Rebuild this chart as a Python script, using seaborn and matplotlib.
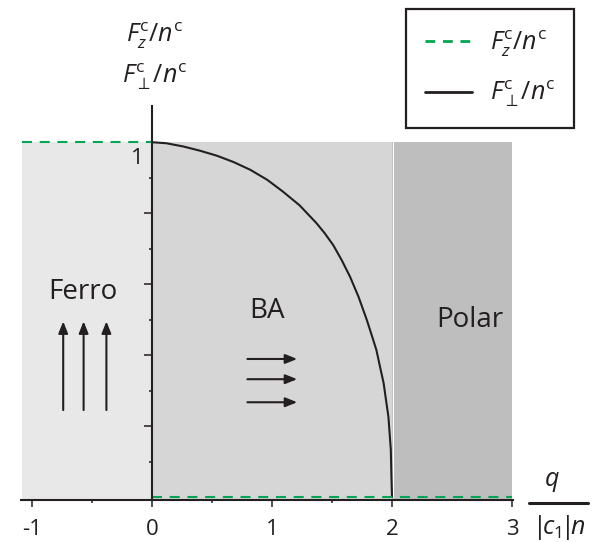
import matplotlib
matplotlib.use("Agg")
import matplotlib.pyplot as plt
from matplotlib.lines import Line2D
from matplotlib.patches import Rectangle
import pandas as pd
import seaborn as sns

# Transverse spin density across the BA phase (read-off values)
q_perp = [0.0, 0.12, 0.26, 0.40, 0.54, 0.68, 0.82, 0.96, 1.09, 1.23, 1.37,
          1.44, 1.51, 1.58, 1.65, 1.72, 1.79, 1.83, 1.87, 1.90, 1.93, 1.95,
          1.97, 1.98, 1.99, 1.995, 2.0]
f_perp = [1.0, 0.997, 0.988, 0.976, 0.962, 0.944, 0.922, 0.894, 0.861, 0.822,
          0.772, 0.743, 0.710, 0.668, 0.621, 0.565, 0.499, 0.457, 0.414,
          0.367, 0.321, 0.273, 0.226, 0.18, 0.133, 0.057, 0.0]

# Longitudinal spin density: saturated in Ferro, zero beyond q = 0
q_fz_ferro = [-1.08, 0.0]
fz_ferro = [1.0, 1.0]
q_fz_rest = [0.0, 3.0]
fz_rest = [0.0, 0.0]

# Phase regions: name, q start, q end, fill colour
phases = ["Ferro", "BA", "Polar"]
phase_q0 = [-1.08, 0.0, 2.0]
phase_q1 = [0.0, 2.0, 3.0]
phase_colors = ["#e8e8e8", "#d7d6d7", "#bebebe"]
phase_label_pos = [(-0.58, 0.577), (0.955, 0.525), (2.65, 0.50)]

x_ticks = [-1, 0, 1, 2, 3]
x_tick_labels = ["-1", "0", "1", "2", "3"]
x_minor = [-0.5, 0.5, 1.5]
y_major = [0.2, 0.4, 0.6, 0.8]
y_minor = [0.1, 0.3, 0.5, 0.7, 0.9]

sns.set_theme(style="white")
plt.rcParams["font.family"] = ["Open Sans", "DejaVu Sans"]
plt.rcParams["mathtext.fontset"] = "custom"
plt.rcParams["mathtext.rm"] = "Open Sans"
plt.rcParams["mathtext.it"] = "Open Sans:italic"
plt.rcParams["mathtext.bf"] = "Open Sans:bold"

GREEN = "#00a651"
INK = "#231f20"
FS_LABEL = 18

fig = plt.figure(figsize=(5.94, 5.42), dpi=100)
ax = fig.add_axes([0.0357, 0.0775, 0.8273, 0.7269])
ax.set_xlim(-1.09, 3.005)
ax.set_ylim(-0.0085, 1.102)

# shaded phase regions
for name, a, b, c in zip(phases, phase_q0, phase_q1, phase_colors):
    ax.add_patch(Rectangle((a, -0.0085), b - a, 1.0085, facecolor=c,
                           edgecolor="none", zorder=0))
ax.plot([2.006, 2.006], [0, 1.0], color="white", lw=0.8, zorder=1)

for name, (px, py) in zip(phases, phase_label_pos):
    ax.text(px, py, name, fontsize=20, ha="center", va="center",
            color=INK, zorder=3)

# curves
df_perp = pd.DataFrame({"q": q_perp, "F": f_perp})
sns.lineplot(data=df_perp, x="q", y="F", ax=ax, color=INK, lw=1.5,
             sort=False, zorder=4)
dash = (0, (4.8, 3.7))
sns.lineplot(x=q_fz_ferro, y=fz_ferro, ax=ax, color=GREEN, lw=1.5,
             linestyle=dash, zorder=5)
sns.lineplot(x=q_fz_rest, y=fz_rest, ax=ax, color=GREEN, lw=1.5,
             linestyle=dash, zorder=5)

# spin arrows
arrow_kw = dict(arrowstyle="-|>,head_length=0.5,head_width=0.2", color=INK,
                lw=1.5, mutation_scale=14, shrinkA=0, shrinkB=0)
for xa in [-0.74, -0.57, -0.38]:
    ax.annotate("", xy=(xa, 0.495), xytext=(xa, 0.245), arrowprops=arrow_kw,
                zorder=3)
for ya in [0.389, 0.332, 0.267]:
    ax.annotate("", xy=(1.21, ya), xytext=(0.795, ya), arrowprops=arrow_kw,
                zorder=3)

# axes styling
for s in ["top", "right"]:
    ax.spines[s].set_visible(False)
ax.spines["left"].set_position(("data", 0.0))
for s in ["left", "bottom"]:
    ax.spines[s].set_color(INK)
    ax.spines[s].set_linewidth(1.5)
    ax.spines[s].set_zorder(6)

ax.set_xticks(x_ticks)
ax.set_xticklabels(x_tick_labels)
ax.set_xticks(x_minor, minor=True)
ax.set_yticks(y_major)
ax.set_yticklabels([])
ax.set_yticks(y_minor, minor=True)
ax.tick_params(axis="x", which="major", direction="out", length=5, width=1.1,
               color=INK, labelsize=16, pad=9, labelcolor=INK, bottom=True)
ax.tick_params(axis="x", which="minor", direction="out", length=2.5,
               width=1.1, color=INK, bottom=True)
ax.tick_params(axis="y", which="major", direction="out", length=5.8,
               width=1.1, color=INK, left=True)
ax.tick_params(axis="y", which="minor", direction="out", length=2.5,
               width=1.1, color=INK, left=True)
ax.set_xlabel("")
ax.set_ylabel("")
ax.text(-0.12, 0.955, "1", fontsize=16, ha="center", va="center", color=INK)

# axis titles
fig.text(155 / 594, 1 - 36 / 542, r"$F_z^{\mathrm{c}}/n^{\mathrm{c}}$",
         fontsize=FS_LABEL, ha="center", va="center", color=INK)
fig.text(155 / 594, 1 - 77 / 542, r"$F_{\perp}^{\mathrm{c}}/n^{\mathrm{c}}$",
         fontsize=FS_LABEL, ha="center", va="center", color=INK)

fig.text(552 / 594, 1 - 482 / 542, r"$q$", fontsize=FS_LABEL,
         ha="center", va="center", color=INK)
fig.add_artist(Line2D([529 / 594, 588 / 594], [1 - 503 / 542, 1 - 503 / 542],
                      color=INK, lw=2.2))
fig.text(559 / 594, 1 - 527 / 542, r"$|\!c_1\!|\!n$", fontsize=FS_LABEL,
         ha="center", va="center", color=INK)

# legend
handles = [Line2D([], [], color=GREEN, lw=2, linestyle=(0, (3.5, 2.8))),
           Line2D([], [], color=INK, lw=2)]
labels = [r"$F_z^{\mathrm{c}}/n^{\mathrm{c}}$",
          r"$F_{\perp}^{\mathrm{c}}/n^{\mathrm{c}}$"]
leg = ax.legend(handles, labels, loc="upper left",
                bbox_to_anchor=(406 / 594, 1 - 9.3 / 542),
                bbox_transform=fig.transFigure, fontsize=FS_LABEL,
                frameon=True, fancybox=False, edgecolor=INK,
                framealpha=1, handlelength=1.9, handletextpad=0.7,
                labelspacing=0.8, borderpad=0.75, borderaxespad=0)
leg.get_frame().set_linewidth(1.6)
for t in leg.get_texts():
    t.set_color(INK)

fig.savefig("out.png", dpi=100)
